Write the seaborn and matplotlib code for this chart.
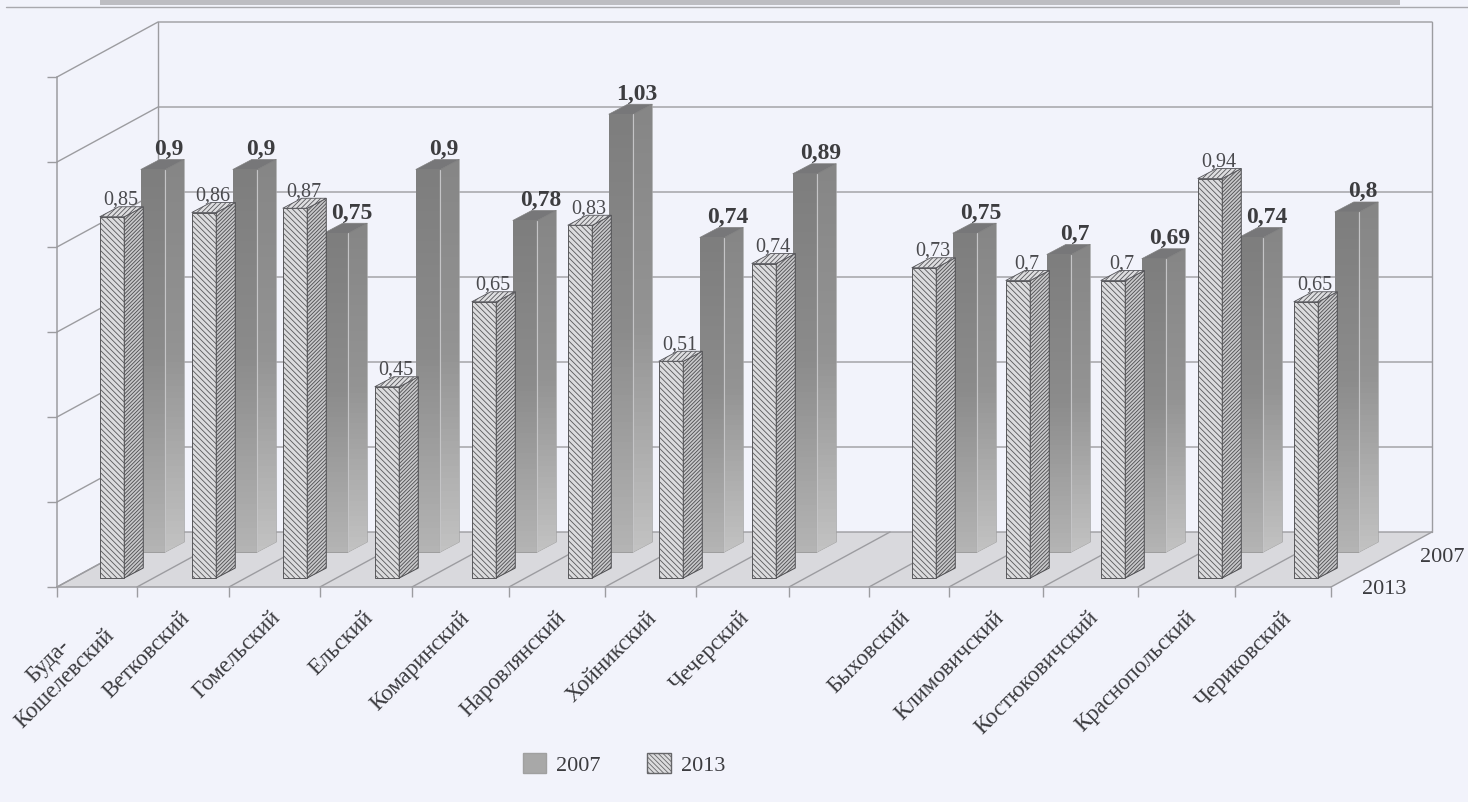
import numpy as np
import matplotlib
matplotlib.use("Agg")
import matplotlib.pyplot as plt
from matplotlib.colors import LinearSegmentedColormap
from matplotlib.lines import Line2D
from matplotlib.patches import Patch, Polygon, Rectangle
import seaborn as sns

# ---------- data ----------
categories = ["Буда-\nКошелевский", "Ветковский", "Гомельский", "Ельский", "Комаринский",
              "Наровлянский", "Хойникский", "Чечерский", "Быховский", "Климовичский",
              "Костюковичский", "Краснопольский", "Чериковский"]
values_2007 = [0.9, 0.9, 0.75, 0.9, 0.78, 1.03, 0.74, 0.89, 0.75, 0.7, 0.69, 0.74, 0.8]
values_2013 = [0.85, 0.86, 0.87, 0.45, 0.65, 0.83, 0.51, 0.74, 0.73, 0.7, 0.7, 0.94, 0.65]
series_names = ["2007", "2013"]
y_ticks = [0, 0.2, 0.4, 0.6, 0.8, 1.0, 1.2]

# ---------- layout (pixel scale of the scanned page) ----------
W, H = 1468, 803
slot_edges = np.array([57, 137, 229, 320, 412, 509, 605, 696, 789, 869, 949, 1043, 1138, 1235, 1331])
blank_slot = 8
PX_PER_UNIT = 425.0
FLOOR_PX, FLOOR_13_PX, FLOOR_07_PX = 588, 579, 553
DEPTH_X, DEPTH_Y = 101, 55 / PX_PER_UNIT
BAR_W, SIDE_X, SIDE_Y = 24.5, 19, 10 / PX_PER_UNIT
PAPER = "#f2f3fb"
SERIF = "Liberation Serif"

sns.set_theme(style="white")
plt.rcParams["font.family"] = [SERIF, "DejaVu Serif"]
plt.rcParams["hatch.linewidth"] = 0.6

fig = plt.figure(figsize=(W / 100, H / 100), dpi=100, facecolor=PAPER)


def plane_axes(base_px, z):
    ax = fig.add_axes([0, 0, 1, 1], zorder=z)
    ax.patch.set_alpha(0)
    ax.set_xlim(0, W)
    ax.set_ylim(-(H - base_px) / PX_PER_UNIT, base_px / PX_PER_UNIT)
    return ax


# page furniture of the scan
fig.add_artist(Rectangle((100 / W, 1 - 6 / H), 1300 / W, 6 / H, transform=fig.transFigure,
                         color="#bdbdc2", lw=0))
fig.add_artist(Line2D([6 / W, 1], [1 - 8 / H] * 2, transform=fig.transFigure, color="#a9a9ae", lw=1))

# ---------- walls, floor, axes ----------
ax0 = plane_axes(FLOOR_PX, 0)
top = y_ticks[-1]
x0, x1 = slot_edges[0], slot_edges[-1]
ax0.add_patch(Polygon([(x0, 0), (x1, 0), (x1 + DEPTH_X, DEPTH_Y), (x0 + DEPTH_X, DEPTH_Y)],
                      facecolor="#d9d9dd", edgecolor="none", zorder=0))
grid_c = "#9c9ca0"
for v in y_ticks:
    ax0.plot([x0, x0 + DEPTH_X, x1 + DEPTH_X], [v, v + DEPTH_Y, v + DEPTH_Y], color=grid_c, lw=1.0, zorder=1)
ax0.plot([x0 + DEPTH_X] * 2, [DEPTH_Y, top + DEPTH_Y], color=grid_c, lw=1.0, zorder=1)
ax0.plot([x1 + DEPTH_X] * 2, [DEPTH_Y, top + DEPTH_Y], color=grid_c, lw=1.0, zorder=1)
for e in slot_edges:
    ax0.plot([e, e + DEPTH_X], [0, DEPTH_Y], color=grid_c, lw=1.0, zorder=1)

for side in ("top", "right"):
    ax0.spines[side].set_visible(False)
ax0.spines["left"].set_position(("data", x0))
ax0.spines["left"].set_bounds(0, top)
ax0.spines["bottom"].set_position(("data", 0))
ax0.spines["bottom"].set_bounds(x0, x1)
for side in ("left", "bottom"):
    ax0.spines[side].set_color(grid_c)
    ax0.spines[side].set_linewidth(1.1)
ax0.set_yticks(y_ticks)
ax0.set_yticklabels([])
ax0.set_xticks(slot_edges)
ax0.set_xticklabels([])
ax0.tick_params(axis="both", which="major", length=7.5, width=1.0, color=grid_c, left=True, bottom=True)

right_edges = np.delete(slot_edges[1:], blank_slot).astype(float)
ax0.set_xticks(right_edges - 50, minor=True)
ax0.set_xticklabels(categories, minor=True, rotation=45, ha="right", va="top",
                    rotation_mode="anchor", fontsize=16.5, color="#3c3c40", multialignment="center")
ax0.tick_params(axis="x", which="minor", length=0, pad=14)

# depth-axis labels
ax0.text(x1 + DEPTH_X * 1.10, (FLOOR_PX - 558) / PX_PER_UNIT, series_names[0], fontsize=16,
         color="#3c3c40", ha="center", va="center")
ax0.text(x1 + DEPTH_X * 0.53, (FLOOR_PX - 590) / PX_PER_UNIT, series_names[1], fontsize=16,
         color="#3c3c40", ha="center", va="center")

# ---------- series ----------
ax07 = plane_axes(FLOOR_07_PX, 1)
ax13 = plane_axes(FLOOR_13_PX, 2)
centers_07 = right_edges + 16
centers_13 = right_edges - 25
width_frac = BAR_W / np.diff(right_edges).min()

sns.barplot(x=centers_07, y=values_2007, native_scale=True, width=width_frac, color="#8f8f8f",
            saturation=1, ax=ax07, legend=False, zorder=2)
sns.barplot(x=centers_13, y=values_2013, native_scale=True, width=width_frac, color="#dcdcde",
            saturation=1, ax=ax13, legend=False, zorder=2)

grad_front = LinearSegmentedColormap.from_list("gf", ["#7e7e7e", "#8c8c8c", "#b4b4b4"])
grad_side = LinearSegmentedColormap.from_list("gs", ["#868686", "#949494", "#c2c2c2"])
ramp = np.linspace(0, 1, 64).reshape(-1, 1)

# 2007: gradient-shaded boxes
for bar, v in zip(ax07.patches, values_2007):
    l, r = bar.get_x(), bar.get_x() + bar.get_width()
    bar.set_edgecolor("#9a9a9a")
    bar.set_linewidth(0.6)
    ax07.imshow(ramp, cmap=grad_front, extent=(l, r, 0, v), aspect="auto", zorder=3, origin="upper")
    side_poly = Polygon([(r, 0), (r + SIDE_X, SIDE_Y), (r + SIDE_X, v + SIDE_Y), (r, v)], facecolor="#9a9a9a",
                        edgecolor="#a5a5a5", lw=0.6, zorder=3)
    ax07.add_patch(side_poly)
    im = ax07.imshow(ramp, cmap=grad_side, extent=(r, r + SIDE_X, 0, v + SIDE_Y), aspect="auto", zorder=3.5,
                     origin="upper")
    im.set_clip_path(side_poly)
    ax07.add_patch(Polygon([(l, v), (r, v), (r + SIDE_X, v + SIDE_Y), (l + SIDE_X, v + SIDE_Y)],
                           facecolor="#777779", edgecolor="#808080", lw=0.5, zorder=4))
    ax07.plot([r, r], [0, v], color="#c4c4c6", lw=0.8, zorder=5)
    ax07.annotate(f"{v:g}".replace(".", ","), (l + 28, v + SIDE_Y), xytext=(0, 4), textcoords="offset points",
                  ha="center", va="baseline", fontsize=17, fontweight="bold", color="#3d3d40", zorder=6)

# 2013: hatched boxes
for bar, v in zip(ax13.patches, values_2013):
    l, r = bar.get_x(), bar.get_x() + bar.get_width()
    bar.set_facecolor("#dcdcde")
    bar.set_edgecolor("#58585b")
    bar.set_hatch("\\" * 6)
    bar.set_linewidth(0.7)
    ax13.add_patch(Polygon([(r, 0), (r + SIDE_X, SIDE_Y), (r + SIDE_X, v + SIDE_Y), (r, v)], facecolor="#c8c8ca",
                           edgecolor="#4c4c4f", hatch="/" * 9, lw=0.7, zorder=3))
    ax13.add_patch(Polygon([(l, v), (r, v), (r + SIDE_X, v + SIDE_Y), (l + SIDE_X, v + SIDE_Y)],
                           facecolor="#dedee0", edgecolor="#55555a", hatch="/" * 7, lw=0.6, zorder=3))
    ax13.annotate(f"{v:g}".replace(".", ","), (l + 21, v + SIDE_Y), xytext=(0, 2), textcoords="offset points",
                  ha="center", va="baseline", fontsize=14.5, color="#4a4a4e", zorder=6)

for ax in (ax07, ax13):
    ax.set_xlim(0, W)
    base = FLOOR_07_PX if ax is ax07 else FLOOR_13_PX
    ax.set_ylim(-(H - base) / PX_PER_UNIT, base / PX_PER_UNIT)
    ax.axis("off")

# ---------- legend ----------
handles = [Patch(facecolor="#a8a8a8", edgecolor="#a0a0a0", label=series_names[0]),
           Patch(facecolor="#dcdcde", edgecolor="#666669", hatch="\\" * 7, label=series_names[1])]
fig.legend(handles=handles, ncol=2, loc="center", bbox_to_anchor=(624 / W, 1 - 765 / H), frameon=False,
           fontsize=16, labelcolor="#3c3c40", handlelength=1.05, handleheight=1.05, handletextpad=0.45,
           columnspacing=2.1, borderpad=0, borderaxespad=0)

fig.savefig("out.png", dpi=100, facecolor=PAPER)
